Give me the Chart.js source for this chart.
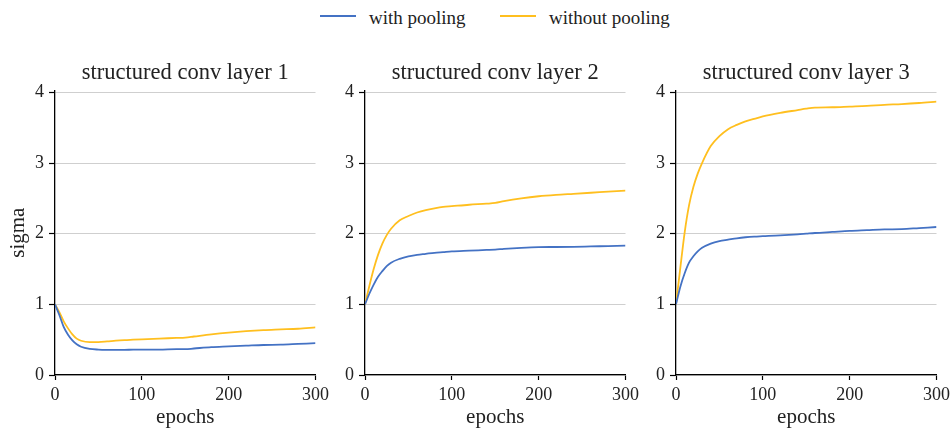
<!DOCTYPE html>
<html>
<head>
<meta charset="utf-8">
<script src="https://cdn.jsdelivr.net/npm/chart.js@4"></script>
<style>
    html, body { margin: 0; padding: 0; background: #fff; }
    body { width: 951px; height: 430px; position: relative; overflow: hidden; font-family: "Liberation Serif", serif; }
    .panel { position: absolute; top: 0; width: 333px; height: 430px; }
    .legend-line { position: absolute; top: 15px; width: 36px; height: 2px; }
    .legend-text { position: absolute; top: 8px; font-size: 19px; line-height: 19px; color: #222; white-space: nowrap; }
</style>
</head>
<body>
<div class="legend-line" style="left:320px; background:#4472c4;"></div>
<div class="legend-text" style="left:369px;">with pooling</div>
<div class="legend-line" style="left:500px; background:#ffbf1f;"></div>
<div class="legend-text" style="left:549px;">without pooling</div>

<div class="panel" style="left:0px;"><canvas id="layer1"></canvas></div>
<div class="panel" style="left:310px;"><canvas id="layer2"></canvas></div>
<div class="panel" style="left:621px;"><canvas id="layer3"></canvas></div>

<script>
// ========================================
// Data
// ========================================
const epochs = [0, 5, 10, 15, 20, 25, 30, 40, 50, 60, 70, 80, 90, 100, 120, 140, 150, 160, 180, 200, 220, 240, 260, 280, 300];

const layer1WithPooling    = [1.0, 0.85, 0.68, 0.57, 0.49, 0.435, 0.40, 0.37, 0.36, 0.356, 0.355, 0.357, 0.358, 0.36, 0.36, 0.365, 0.365, 0.375, 0.395, 0.405, 0.415, 0.425, 0.43, 0.44, 0.45];
const layer1WithoutPooling = [1.0, 0.89, 0.76, 0.66, 0.575, 0.515, 0.485, 0.466, 0.466, 0.475, 0.487, 0.495, 0.50, 0.505, 0.515, 0.525, 0.53, 0.545, 0.575, 0.60, 0.62, 0.635, 0.645, 0.655, 0.675];

const layer2WithPooling    = [1.0, 1.15, 1.28, 1.39, 1.47, 1.54, 1.59, 1.645, 1.68, 1.70, 1.715, 1.73, 1.74, 1.75, 1.76, 1.77, 1.775, 1.785, 1.80, 1.81, 1.812, 1.815, 1.82, 1.825, 1.83];
const layer2WithoutPooling = [1.0, 1.26, 1.50, 1.70, 1.86, 1.98, 2.07, 2.19, 2.25, 2.30, 2.335, 2.36, 2.38, 2.39, 2.41, 2.425, 2.435, 2.46, 2.50, 2.53, 2.55, 2.565, 2.58, 2.595, 2.61];

const layer3WithPooling    = [1.0, 1.25, 1.44, 1.59, 1.68, 1.75, 1.80, 1.86, 1.895, 1.915, 1.935, 1.95, 1.96, 1.965, 1.975, 1.99, 2.0, 2.01, 2.025, 2.04, 2.05, 2.06, 2.065, 2.08, 2.095];
const layer3WithoutPooling = [1.0, 1.52, 2.02, 2.40, 2.66, 2.85, 3.00, 3.24, 3.38, 3.48, 3.54, 3.59, 3.625, 3.66, 3.71, 3.75, 3.77, 3.785, 3.79, 3.80, 3.81, 3.825, 3.835, 3.85, 3.87];

const seriesLabels = ['with pooling', 'without pooling'];
const seriesColors = ['#4472c4', '#ffbf1f'];
const xTicks = [0, 100, 200, 300];
const yTicks = [0, 1, 2, 3, 4];

const FONT = '"Liberation Serif", serif';
const TEXT = '#222';

function toPoints(values) {
    return epochs.map((e, i) => ({ x: e, y: values[i] }));
}

function makePanel(canvasId, title, withPool, withoutPool, showYTitle) {
    const ctx = document.getElementById(canvasId).getContext('2d');

    return new Chart(ctx, {
        type: 'line',
        data: {
            datasets: [withPool, withoutPool].map((vals, i) => ({
                label: seriesLabels[i],
                data: toPoints(vals),
                borderColor: seriesColors[i],
                borderWidth: 1.8,
                pointRadius: 0,
                cubicInterpolationMode: 'monotone',
                fill: false
            }))
        },
        options: {
            responsive: true,
            maintainAspectRatio: false,
            animation: false,
            // right side room comes from the "300" tick label overflow
            layout: { padding: { top: 50, right: 0, bottom: 0, left: 0 } },
            plugins: {
                legend: { display: false },
                tooltip: { enabled: false },
                title: {
                    display: true,
                    text: title,
                    fullSize: false,
                    color: TEXT,
                    font: { family: FONT, size: 22.5, weight: 'normal' },
                    padding: { top: 10, bottom: 3.3 }
                }
            },
            scales: {
                x: {
                    type: 'linear',
                    min: 0,
                    max: 300,
                    afterFit: scale => { scale.height = 55; },
                    afterBuildTicks: scale => { scale.ticks = xTicks.map(v => ({ value: v })); },
                    grid: { drawOnChartArea: false, tickColor: '#000', tickLength: 5, tickWidth: 1.2 },
                    border: { color: '#000', width: 1.3 },
                    ticks: { color: TEXT, padding: 4, maxRotation: 0, font: { family: FONT, size: 18 } },
                    title: {
                        display: true,
                        text: 'epochs',
                        color: TEXT,
                        font: { family: FONT, size: 21 },
                        padding: { top: 0, bottom: 0 }
                    }
                },
                y: {
                    min: 0,
                    max: 4.03,
                    afterFit: scale => { scale.width = 55; },
                    afterBuildTicks: scale => { scale.ticks = yTicks.map(v => ({ value: v })); },
                    grid: { color: '#cfcfcf', lineWidth: 1, tickColor: '#000', tickLength: 6, tickWidth: 1.2 },
                    border: { color: '#000', width: 1.3 },
                    ticks: { color: TEXT, padding: 5, font: { family: FONT, size: 18 } },
                    title: {
                        display: showYTitle,
                        text: 'sigma',
                        color: TEXT,
                        font: { family: FONT, size: 21 },
                        padding: { top: 6, bottom: 0 }
                    }
                }
            }
        }
    });
}

makePanel('layer1', 'structured conv layer 1', layer1WithPooling, layer1WithoutPooling, true);
makePanel('layer2', 'structured conv layer 2', layer2WithPooling, layer2WithoutPooling, false);
makePanel('layer3', 'structured conv layer 3', layer3WithPooling, layer3WithoutPooling, false);
</script>
</body>
</html>
